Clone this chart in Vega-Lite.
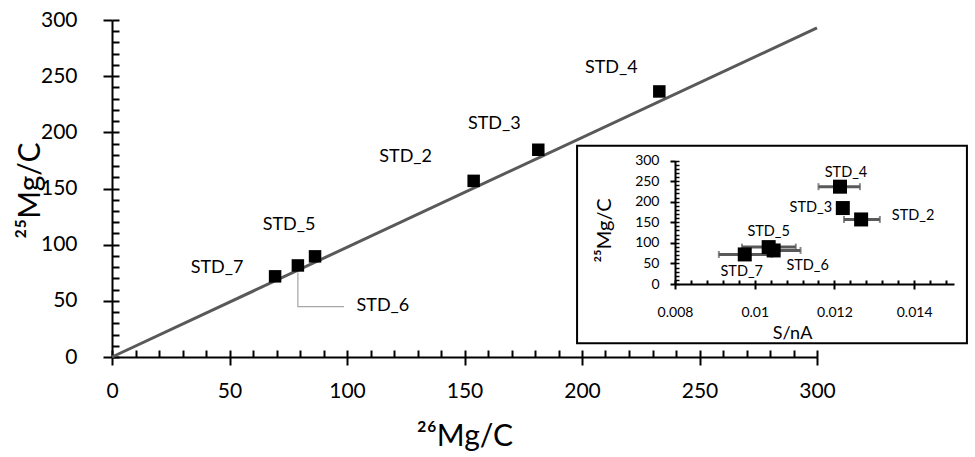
{
  "$schema": "https://vega.github.io/schema/vega-lite/v6.json",
  "width": 705,
  "height": 337,
  "autosize": "none",
  "padding": {"left": 112, "top": 20, "right": 158, "bottom": 100},
  "background": "white",
  "config": {
    "view": {"stroke": null},
    "font": "Lato",
    "axis": {"grid": false, "ticks": true, "domainColor": "black", "tickColor": "black", "labelColor": "black", "titleColor": "black", "titleFontWeight": "normal", "labelFont": "Lato", "titleFont": "Lato"},
    "text": {"font": "Lato", "color": "black", "align": "center", "baseline": "middle"}
  },
  "datasets": {
    "stds": [
      {"label": "STD_2", "mg26": 153.9, "mg25": 156.8, "sna": 0.01267, "lo": 0.01224, "hi": 0.01314},
      {"label": "STD_3", "mg26": 181.4, "mg25": 184.5, "sna": 0.01221, "lo": null, "hi": null},
      {"label": "STD_4", "mg26": 232.9, "mg25": 236.4, "sna": 0.01214, "lo": 0.0116, "hi": 0.01264},
      {"label": "STD_5", "mg26": 86.4, "mg25": 89.6, "sna": 0.01035, "lo": 0.00968, "hi": 0.01103},
      {"label": "STD_6", "mg26": 79.1, "mg25": 81.5, "sna": 0.010475, "lo": 0.01035, "hi": 0.01115},
      {"label": "STD_7", "mg26": 69.4, "mg25": 71.8, "sna": 0.00975, "lo": 0.0091, "hi": 0.010425}
    ],
    "fit": [{"x": 0, "y": 0}, {"x": 300, "y": 293}],
    "leader": [{"i": 0, "x": 79.1, "y": 75.5}, {"i": 1, "x": 79.1, "y": 44.8}, {"i": 2, "x": 98.7, "y": 44.8}],
    "box": [{"x1": 197.9, "x2": 363.8, "y1": 12.3, "y2": 188.1}]
  },
  "layer": [
    {
      "layer": [
        {
          "data": {"name": "fit"},
          "mark": {"type": "line", "color": "#595959", "strokeWidth": 3},
          "encoding": {
            "x": {"field": "x", "type": "quantitative", "scale": {"domain": [0, 300], "nice": false, "zero": false},
              "axis": {"orient": "bottom", "values": [0, 50, 100, 150, 200, 250, 300], "tickSize": 8, "tickWidth": 2, "domainWidth": 2, "labelFontSize": 21, "labelPadding": 15, "labelFlush": false, "labelOverlap": false, "title": "²⁶Mg/C", "titleFontSize": 30, "titlePadding": 20}},
            "y": {"field": "y", "type": "quantitative", "scale": {"domain": [0, 300], "nice": false, "zero": false},
              "axis": {"orient": "left", "values": [0, 50, 100, 150, 200, 250, 300], "tickSize": 9, "tickWidth": 2, "domainWidth": 2, "labelFontSize": 21, "labelPadding": 26, "labelFlush": false, "labelOverlap": false, "title": "²⁵Mg/C", "titleFontSize": 30, "titleX": -82, "titleY": 170, "titleAlign": "center", "titleBaseline": "middle", "titleAngle": -90}}
          }
        },
        {
          "data": {"name": "stds"},
          "mark": {"type": "square", "size": 156, "color": "black", "opacity": 1},
          "encoding": {
            "x": {"field": "mg26", "type": "quantitative",
              "axis": {"orient": "top", "offset": -337, "values": [0,10,20,30,40,50,60,70,80,90,100,110,120,130,140,150,160,170,180,190,200,210,220,230,240,250,260,270,280,290,300], "tickSize": 7, "tickWidth": 2, "labels": false, "domain": false, "title": null}},
            "y": {"field": "mg25", "type": "quantitative",
              "axis": {"orient": "right", "offset": -705, "values": [0,10,20,30,40,50,60,70,80,90,100,110,120,130,140,150,160,170,180,190,200,210,220,230,240,250,260,270,280,290,300], "tickSize": 7, "tickWidth": 2, "labels": false, "domain": false, "title": null}}
          }
        },
        {
          "data": {"name": "leader"},
          "mark": {"type": "line", "color": "#a6a6a6", "strokeWidth": 1.2},
          "encoding": {
            "x": {"field": "x", "type": "quantitative", "axis": null},
            "y": {"field": "y", "type": "quantitative", "axis": null},
            "order": {"field": "i"}
          }
        },
        {
          "data": {"name": "box"},
          "mark": {"type": "rect", "fill": null, "stroke": "black", "strokeWidth": 2},
          "encoding": {
            "x": {"field": "x1", "type": "quantitative", "axis": null},
            "x2": {"field": "x2"},
            "y": {"field": "y1", "type": "quantitative", "axis": null},
            "y2": {"field": "y2"}
          }
        },
        {"data": {"name": "stds"}, "transform": [{"filter": "datum.label === 'STD_4'"}], "mark": {"type": "text", "fontSize": 18, "dx": -48, "dy": -23}, "encoding": {"x": {"field": "mg26", "type": "quantitative", "axis": null}, "y": {"field": "mg25", "type": "quantitative", "axis": null}, "text": {"field": "label"}}},
        {"data": {"name": "stds"}, "transform": [{"filter": "datum.label === 'STD_3'"}], "mark": {"type": "text", "fontSize": 18, "dx": -44, "dy": -26}, "encoding": {"x": {"field": "mg26", "type": "quantitative", "axis": null}, "y": {"field": "mg25", "type": "quantitative", "axis": null}, "text": {"field": "label"}}},
        {"data": {"name": "stds"}, "transform": [{"filter": "datum.label === 'STD_2'"}], "mark": {"type": "text", "fontSize": 18, "dx": -68, "dy": -24}, "encoding": {"x": {"field": "mg26", "type": "quantitative", "axis": null}, "y": {"field": "mg25", "type": "quantitative", "axis": null}, "text": {"field": "label"}}},
        {"data": {"name": "stds"}, "transform": [{"filter": "datum.label === 'STD_5'"}], "mark": {"type": "text", "fontSize": 18, "dx": -26, "dy": -31}, "encoding": {"x": {"field": "mg26", "type": "quantitative", "axis": null}, "y": {"field": "mg25", "type": "quantitative", "axis": null}, "text": {"field": "label"}}},
        {"data": {"name": "stds"}, "transform": [{"filter": "datum.label === 'STD_7'"}], "mark": {"type": "text", "fontSize": 18, "dx": -58, "dy": -8}, "encoding": {"x": {"field": "mg26", "type": "quantitative", "axis": null}, "y": {"field": "mg25", "type": "quantitative", "axis": null}, "text": {"field": "label"}}},
        {"data": {"name": "stds"}, "transform": [{"filter": "datum.label === 'STD_6'"}], "mark": {"type": "text", "fontSize": 18, "dx": 85, "dy": 41}, "encoding": {"x": {"field": "mg26", "type": "quantitative", "axis": null}, "y": {"field": "mg25", "type": "quantitative", "axis": null}, "text": {"field": "label"}}}
      ],
      "resolve": {"axis": {"x": "independent", "y": "independent"}}
    },
    {
      "layer": [
        {
          "data": {"name": "stds"},
          "transform": [{"filter": "datum.lo != null"}],
          "mark": {"type": "rule", "color": "#595959", "strokeWidth": 3},
          "encoding": {
            "x": {"field": "lo", "type": "quantitative", "scale": {"domain": [0.008, 0.015], "range": [563, 842], "nice": false, "zero": false},
              "axis": {"orient": "bottom", "offset": -73, "zindex": 1, "values": [0.008, 0.01, 0.012, 0.014], "labelExpr": "format(datum.value, '~g')", "tickSize": 5, "tickWidth": 2, "domainWidth": 2, "labelFontSize": 14, "labelPadding": 16, "labelFlush": false, "labelOverlap": false, "title": "S/nA", "titleFontSize": 18, "titleX": 680, "titleY": 49, "titleBaseline": "middle", "titleAnchor": null}},
            "x2": {"field": "hi"},
            "y": {"field": "mg25", "type": "quantitative", "scale": {"domain": [0, 300], "range": [264, 140.5], "nice": false, "zero": false},
              "axis": {"orient": "left", "offset": -563, "zindex": 1, "values": [0, 50, 100, 150, 200, 250, 300], "tickSize": 5, "tickWidth": 2, "domainWidth": 2, "labelFontSize": 14, "labelPadding": 11, "labelFlush": false, "labelOverlap": false, "title": "²⁵Mg/C", "titleFontSize": 20, "titleX": -71, "titleY": 210, "titleAlign": "center", "titleBaseline": "middle", "titleAngle": -90}}
          }
        },
        {
          "data": {"name": "stds"},
          "transform": [{"filter": "datum.lo != null"}],
          "mark": {"type": "tick", "orient": "vertical", "color": "#595959", "size": 7, "thickness": 2},
          "encoding": {"x": {"field": "lo", "type": "quantitative", "axis": null}, "y": {"field": "mg25", "type": "quantitative", "axis": null}}
        },
        {
          "data": {"name": "stds"},
          "transform": [{"filter": "datum.hi != null"}],
          "mark": {"type": "tick", "orient": "vertical", "color": "#595959", "size": 7, "thickness": 2},
          "encoding": {"x": {"field": "hi", "type": "quantitative", "axis": null}, "y": {"field": "mg25", "type": "quantitative", "axis": null}}
        },
        {
          "data": {"name": "stds"},
          "mark": {"type": "square", "size": 196, "color": "black", "opacity": 1},
          "encoding": {
            "x": {"field": "sna", "type": "quantitative",
              "axis": {"orient": "top", "offset": -264, "zindex": 1, "values": [0.008, 0.0084, 0.0088, 0.0092, 0.0096, 0.01, 0.0104, 0.0108, 0.0112, 0.0116, 0.012, 0.0124, 0.0128, 0.0132, 0.0136, 0.014, 0.0144, 0.0148], "tickSize": 4, "tickWidth": 2, "labels": false, "domain": false, "title": null}},
            "y": {"field": "mg25", "type": "quantitative",
              "axis": {"orient": "right", "offset": -142, "zindex": 1, "values": [0,10,20,30,40,50,60,70,80,90,100,110,120,130,140,150,160,170,180,190,200,210,220,230,240,250,260,270,280,290,300], "tickSize": 4, "tickWidth": 1.5, "labels": false, "domain": false, "title": null}}
          }
        },
        {"data": {"name": "stds"}, "transform": [{"filter": "datum.label === 'STD_4'"}], "mark": {"type": "text", "fontSize": 14.5, "dx": 6, "dy": -14}, "encoding": {"x": {"field": "sna", "type": "quantitative", "axis": null}, "y": {"field": "mg25", "type": "quantitative", "axis": null}, "text": {"field": "label"}}},
        {"data": {"name": "stds"}, "transform": [{"filter": "datum.label === 'STD_3'"}], "mark": {"type": "text", "fontSize": 14.5, "dx": -32, "dy": 0}, "encoding": {"x": {"field": "sna", "type": "quantitative", "axis": null}, "y": {"field": "mg25", "type": "quantitative", "axis": null}, "text": {"field": "label"}}},
        {"data": {"name": "stds"}, "transform": [{"filter": "datum.label === 'STD_2'"}], "mark": {"type": "text", "fontSize": 14.5, "dx": 52, "dy": -3}, "encoding": {"x": {"field": "sna", "type": "quantitative", "axis": null}, "y": {"field": "mg25", "type": "quantitative", "axis": null}, "text": {"field": "label"}}},
        {"data": {"name": "stds"}, "transform": [{"filter": "datum.label === 'STD_5'"}], "mark": {"type": "text", "fontSize": 14.5, "dx": 0, "dy": -15}, "encoding": {"x": {"field": "sna", "type": "quantitative", "axis": null}, "y": {"field": "mg25", "type": "quantitative", "axis": null}, "text": {"field": "label"}}},
        {"data": {"name": "stds"}, "transform": [{"filter": "datum.label === 'STD_6'"}], "mark": {"type": "text", "fontSize": 14.5, "dx": 34, "dy": 16}, "encoding": {"x": {"field": "sna", "type": "quantitative", "axis": null}, "y": {"field": "mg25", "type": "quantitative", "axis": null}, "text": {"field": "label"}}},
        {"data": {"name": "stds"}, "transform": [{"filter": "datum.label === 'STD_7'"}], "mark": {"type": "text", "fontSize": 14.5, "dx": -3, "dy": 18}, "encoding": {"x": {"field": "sna", "type": "quantitative", "axis": null}, "y": {"field": "mg25", "type": "quantitative", "axis": null}, "text": {"field": "label"}}}
      ],
      "resolve": {"axis": {"x": "independent", "y": "independent"}}
    }
  ],
  "resolve": {"scale": {"x": "independent", "y": "independent"}}
}
